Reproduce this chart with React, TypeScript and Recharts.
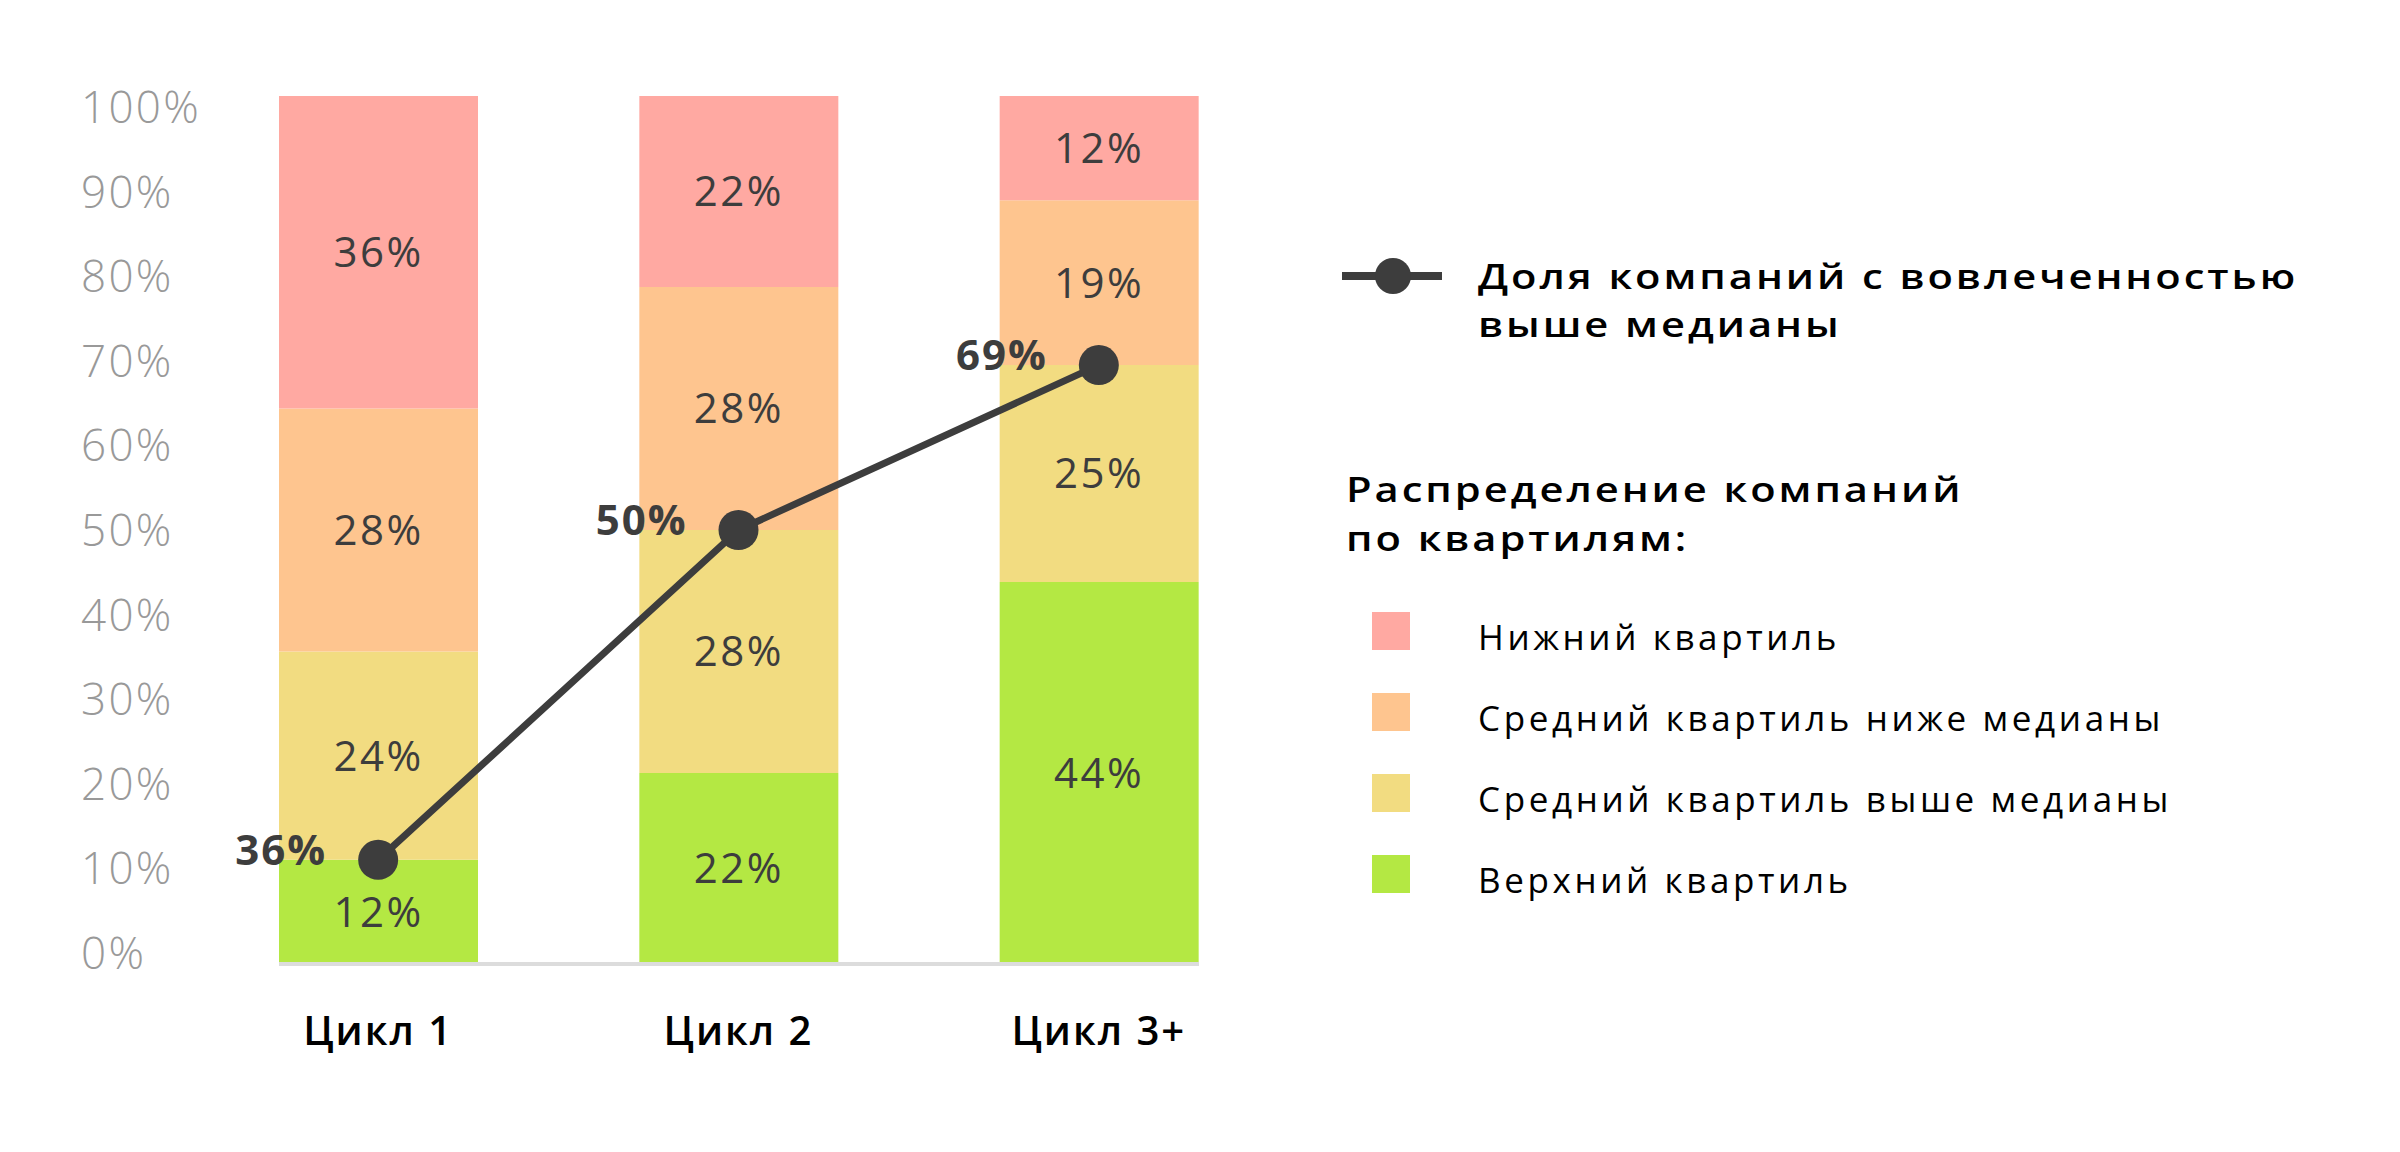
import {
  ComposedChart,
  Bar,
  Line,
  XAxis,
  YAxis,
  LabelList,
  Legend,
} from "recharts";

const cycles = ["Цикл 1", "Цикл 2", "Цикл 3+"];
const topQuartile = [12, 22, 44];
const upperMiddle = [24, 28, 25];
const lowerMiddle = [28, 28, 19];
const bottomQuartile = [36, 22, 12];
// where the designer put the dots, and what is written next to them
const engagedPoints = [12, 50, 69];
const engagedLabels = ["36%", "50%", "69%"];
const yTicks = [0, 10, 20, 30, 40, 50, 60, 70, 80, 90, 100];

const lineName = "Доля компаний с вовлеченностью выше медианы";
const lineNameRows = ["Доля компаний с вовлеченностью", "выше медианы"];
const groupTitleRows = ["Распределение компаний", "по квартилям:"];
const quartileNames = [
  "Нижний квартиль",
  "Средний квартиль ниже медианы",
  "Средний квартиль выше медианы",
  "Верхний квартиль",
];

const FONT = "'Open Sans', sans-serif";
const RED = "#ffa9a2";
const ORANGE = "#fec58f";
const YELLOW = "#f2dc81";
const GREEN = "#b4e843";
const DARK = "#3d3d3d";
const legendColors = [RED, ORANGE, YELLOW, GREEN];

const data = cycles.map((cycle, i) => ({
  cycle,
  top: topQuartile[i],
  upperMid: upperMiddle[i],
  lowerMid: lowerMiddle[i],
  bottom: bottomQuartile[i],
  engaged: engagedPoints[i],
  engagedLabel: engagedLabels[i],
}));

const pct = (v: any) => `${v}%`;

const YTick = ({ y, payload }: any) => (
  <text
    x={73}
    y={y + 5 + payload.value * 0.22}
    textAnchor="start"
    fill="#999"
    fontSize={44}
    fontWeight={300}
    letterSpacing={2.3}
    fontFamily={FONT}
  >
    {payload.value}%
  </text>
);

const XTick = ({ x, y, payload }: any) => (
  <text
    x={x}
    y={y + 81}
    textAnchor="middle"
    fill="#000"
    fontSize={40}
    fontWeight={600}
    letterSpacing={2}
    fontFamily={FONT}
  >
    {payload.value}
  </text>
);

const EngagedLabel = ({ x, y, value }: any) => (
  <text
    x={x - 51}
    y={y + 5}
    textAnchor="end"
    fill={DARK}
    fontSize={42}
    fontWeight={700}
    letterSpacing={2}
    fontFamily={FONT}
  >
    {value}
  </text>
);

// bold titles: a little wider than Open Sans, so stretch them sideways
const Rows = ({ rows, x, y, step }: any) => (
  <g transform={`translate(${x} 0) scale(1.19 1)`}>
    {rows.map((row: string, i: number) => (
      <text
        key={row}
        x={0}
        y={y + i * step}
        fill="#000"
        fontFamily={FONT}
        fontWeight={600}
        fontSize={35}
        letterSpacing={2.5}
      >
        {row}
      </text>
    ))}
  </g>
);

const LegendBox = () => (
  <svg width={1060} height={700} style={{ display: "block" }}>
    <line x1={8} y1={46} x2={108} y2={46} stroke={DARK} strokeWidth={8} />
    <circle cx={59} cy={46} r={18} fill={DARK} />
    <Rows rows={lineNameRows} x={144} y={59} step={48} />
    <Rows rows={groupTitleRows} x={12} y={272} step={49} />
    {quartileNames.map((name, i) => (
      <g key={name}>
        <rect x={38} y={382 + i * 81} width={38} height={38} fill={legendColors[i]} />
        <text
          x={144}
          y={420 + i * 81}
          fontSize={35}
          letterSpacing={3.6}
          fill="#000"
          fontFamily={FONT}
        >
          {name}
        </text>
      </g>
    ))}
  </svg>
);

const valueLabel = {
  position: "center" as const,
  formatter: pct,
  fill: DARK,
  fontSize: 42,
  letterSpacing: 2.5,
  fontFamily: FONT,
};

const App = () => {
  return (
    <div style={{ width: 2384, height: 1136, fontFamily: FONT }}>
      <ComposedChart
        width={2384}
        height={1136}
        data={data}
        margin={{ top: 88, right: 1193, bottom: 100, left: 71 }}
      >
        <XAxis
          dataKey="cycle"
          height={80}
          padding={{ left: -81, right: -80 }}
          axisLine={{ stroke: "#dcdcdc", strokeWidth: 4 }}
          tickLine={false}
          tickSize={0}
          tickMargin={0}
          tick={<XTick />}
        />
        <YAxis
          width={200}
          domain={[0, 100]}
          ticks={yTicks}
          axisLine={false}
          tickLine={false}
          tickSize={0}
          tick={<YTick />}
        />
        <Legend
          layout="vertical"
          align="center"
          verticalAlign="middle"
          wrapperStyle={{ left: 1326, top: 222, width: 1060, height: 700 }}
          content={<LegendBox />}
        />
        <Bar dataKey="top" name={quartileNames[3]} stackId="q" fill={GREEN} barSize={199} isAnimationActive={false}>
          <LabelList dataKey="top" {...valueLabel} />
        </Bar>
        <Bar dataKey="upperMid" name={quartileNames[2]} stackId="q" fill={YELLOW} barSize={199} isAnimationActive={false}>
          <LabelList dataKey="upperMid" {...valueLabel} />
        </Bar>
        <Bar dataKey="lowerMid" name={quartileNames[1]} stackId="q" fill={ORANGE} barSize={199} isAnimationActive={false}>
          <LabelList dataKey="lowerMid" {...valueLabel} />
        </Bar>
        <Bar dataKey="bottom" name={quartileNames[0]} stackId="q" fill={RED} barSize={199} isAnimationActive={false}>
          <LabelList dataKey="bottom" {...valueLabel} />
        </Bar>
        <Line
          dataKey="engaged"
          name={lineName}
          stroke={DARK}
          strokeWidth={7}
          dot={{ r: 20, fill: DARK, stroke: "none" }}
          activeDot={false}
          isAnimationActive={false}
        >
          <LabelList dataKey="engagedLabel" content={<EngagedLabel />} />
        </Line>
      </ComposedChart>
    </div>
  );
};

export default App;
